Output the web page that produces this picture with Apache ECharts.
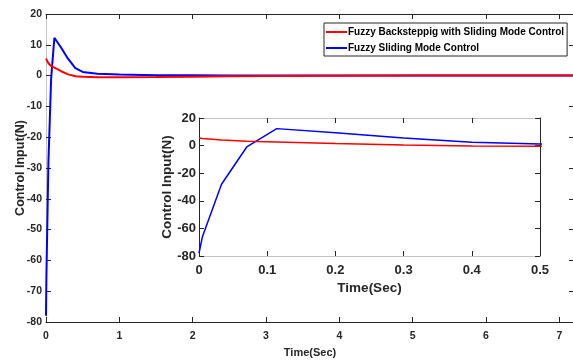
<!DOCTYPE html>
<html><head><meta charset="utf-8">
<script src="https://cdn.jsdelivr.net/npm/echarts@6/dist/echarts.min.js"></script>
<style>html,body{margin:0;padding:0;overflow:hidden;background:#fff}#c{width:576px;height:360px}</style>
</head><body><div id="c"></div>
<script>
// Data
var timeSec = [0, 0.005, 0.033, 0.07, 0.114, 0.2, 0.3, 0.4, 0.5, 0.7, 1.0, 1.5, 2, 2.5, 3, 4, 5, 6, 7, 7.2];
var fuzzyBackstepping = [5.5, 5.2, 4.0, 3.1, 2.6, 1.5, 0.4, -0.2, -0.4, -0.5, -0.5, -0.45, -0.35, -0.25, -0.15, -0.05, 0, 0, 0, 0];
var fuzzySliding = [-78, -66, -28, -1, 12.3, 9.3, 5.5, 2.4, 1.2, 0.6, 0.35, 0.15, 0.1, 0.05, 0.02, 0, 0, 0, 0, 0];
var seriesNames = ['Fuzzy Backsteppig with Sliding Mode Control', 'Fuzzy Sliding Mode Control'];
var mainXTicks = [0, 7.2, 1];
var mainYTicks = [-80, 20, 10];
var insetXTicks = [0, 0.5, 0.1];
var insetYTicks = [-80, 20, 20];

function pairs(ys){ return timeSec.map(function(t,i){return [t, ys[i]];}); }
var sans = "'Liberation Sans',Arial,sans-serif";
var dark = '#262626';
var grey = '#c4c4c4';

function isMult(r){ var q = r[1]/r[2]; return Math.abs(q-Math.round(q))<1e-9; }
function axisX(grid, r, pos, labels, lineColor, font, z){
  return {type:'value', gridIndex:grid, position:pos, min:r[0], max:r[1], interval:r[2], z:z,
    nameMoveOverlap:false,
    axisLine:{show:true, onZero:false, lineStyle:{color:lineColor, width:1}},
    axisTick:{show:true, inside:true, length:5, lineStyle:{color:dark}},
    splitLine:{show:false},
    axisLabel:{show:labels, showMaxLabel:isMult(r), color:dark, fontWeight:'bold', fontFamily:font.f, fontSize:font.s, margin:font.mx}};
}
function axisY(grid, r, pos, labels, lineColor, font, z){
  return {type:'value', gridIndex:grid, position:pos, min:r[0], max:r[1], interval:r[2], z:z,
    nameMoveOverlap:false,
    axisLine:{show:true, onZero:false, lineStyle:{color:lineColor, width:1}},
    axisTick:{show:true, inside:true, length:5, lineStyle:{color:dark}},
    splitLine:{show:false},
    axisLabel:{show:labels, color:dark, fontWeight:'bold', fontFamily:font.f, fontSize:font.s, margin:font.my}};
}
var mainFont = {f:sans, s:10.5, mx:9, my:4};
var insetFont = {f:sans, s:13, mx:8, my:3};

var xAxes = [
  axisX(0, mainXTicks, 'bottom', true, dark, mainFont, 1),
  axisX(0, mainXTicks, 'top', false, dark, mainFont, 1),
  axisX(1, insetXTicks, 'bottom', true, grey, insetFont, 6),
  axisX(1, insetXTicks, 'top', false, grey, insetFont, 6)
];
xAxes[0].name = 'Time(Sec)'; xAxes[0].nameLocation='middle'; xAxes[0].nameGap = 25;
xAxes[0].nameTextStyle = {color:dark, fontWeight:'bold', fontFamily:sans, fontSize:11, verticalAlign:'top'};
xAxes[2].name = 'Time(Sec)'; xAxes[2].nameLocation='middle'; xAxes[2].nameGap = 25;
xAxes[2].nameTextStyle = {color:dark, fontWeight:'bold', fontFamily:sans, fontSize:13.5, verticalAlign:'top'};

var yAxes = [
  axisY(0, mainYTicks, 'left', true, grey, mainFont, 1),
  axisY(0, mainYTicks, 'right', false, dark, mainFont, 1),
  axisY(1, insetYTicks, 'left', true, dark, insetFont, 6),
  axisY(1, insetYTicks, 'right', false, dark, insetFont, 6)
];
yAxes[0].name = 'Control Input(N)'; yAxes[0].nameLocation='middle'; yAxes[0].nameGap = 19; yAxes[0].nameRotate = 90;
yAxes[0].nameTextStyle = {color:dark, fontWeight:'bold', fontFamily:sans, fontSize:12.5, verticalAlign:'bottom'};
yAxes[2].name = 'Control Input(N)'; yAxes[2].nameLocation='middle'; yAxes[2].nameGap = 25; yAxes[2].nameRotate = 90;
yAxes[2].nameTextStyle = {color:dark, fontWeight:'bold', fontFamily:sans, fontSize:13.5, verticalAlign:'bottom'};

function line(name, ys, color, xi, yi, w, z){
  return {type:'line', name:name, data:pairs(ys), xAxisIndex:xi, yAxisIndex:yi, showSymbol:false, symbol:'none',
    lineStyle:{color:color, width:w}, itemStyle:{color:color}, z:z, animation:false, clip:true};
}

var chart = echarts.init(document.getElementById('c'), null, {renderer:'canvas'});
chart.setOption({
  animation:false,
  backgroundColor:'#fff',
  grid:[
    {left:46, right:2, top:14, bottom:38, show:false, containLabel:false, outerBoundsMode:'none'},
    {left:199, right:36, top:118, bottom:104, show:true, backgroundColor:'#fff', borderWidth:0, z:5, containLabel:false, outerBoundsMode:'none'}
  ],
  xAxis: xAxes,
  yAxis: yAxes,
  legend:{
    data:seriesNames, orient:'vertical', left:324, top:23, icon:'rect', itemWidth:21, itemHeight:2,
    itemGap:6, padding:[4,3,3,2], borderColor:dark, borderWidth:1, backgroundColor:'#fff',
    textStyle:{color:'#000', fontWeight:'bold', fontFamily:sans, fontSize:10, padding:[0,0,0,-4]}
  },
  series:[
    line(seriesNames[0], fuzzyBackstepping, '#ff0000', 0, 0, 2, 3),
    line(seriesNames[1], fuzzySliding, '#0000ff', 0, 0, 2, 2),
    line(seriesNames[0], fuzzyBackstepping, '#ff0000', 2, 2, 1.5, 8),
    line(seriesNames[1], fuzzySliding, '#0000ff', 2, 2, 1.5, 7)
  ]
});
</script></body></html>
